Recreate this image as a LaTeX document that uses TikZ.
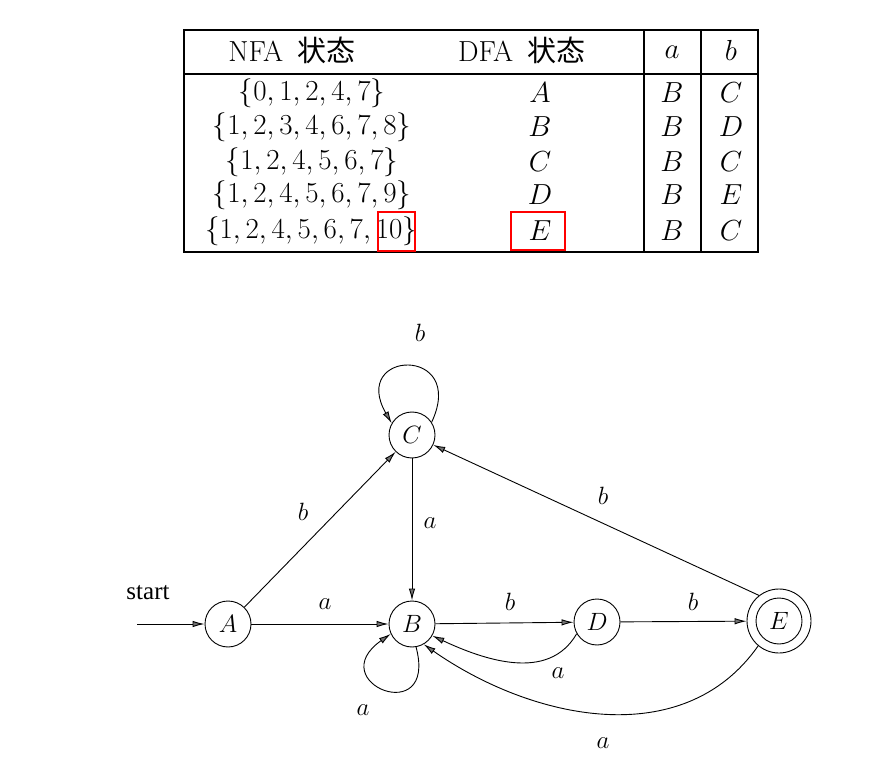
\RequirePackage{fix-cm}
\documentclass[tikz,border=0pt]{standalone}
\usepackage{fontspec}
\newfontfamily\cjkfont{Noto Sans CJK SC}
\newfontfamily\startfont{Liberation Serif}
\usetikzlibrary{arrows.meta}
\tikzset{
  tline/.style={line width=1.5pt},
  redbox/.style={draw=red, line width=2.8pt},
  tcell/.style={inner sep=0pt, font=\fontsize{29}{31}\selectfont},
  st/.style={circle, draw, line width=0.9pt, minimum size=46pt, inner sep=0pt, font=\fontsize{25}{25}\selectfont},
  lbl/.style={inner sep=0pt, font=\fontsize{25}{25}\selectfont},
  arr/.style={line width=0.9pt, -{Latex[length=12pt,width=6.5pt,fill=black!55]}}
}
\begin{document}
\begin{tikzpicture}[x=1pt,y=1pt]
\path[fill=white, use as bounding box] (0,0) rectangle (892,-759);
% ---------- table ----------
\draw[tline] (184,-30) rectangle (758,-252);
\draw[tline] (184,-74) -- (758,-74);
\draw[tline] (644,-30) -- (644,-252);
\draw[tline] (701,-30) -- (701,-252);
\node[tcell] (h1) at (292,-50) {NFA\hspace{0.5em}{\cjkfont 状态}};
\node[tcell] (h2) at (522,-50) {DFA\hspace{0.5em}{\cjkfont 状态}};
\node[tcell] (h3) at (672,-52) {$a$};
\node[tcell] (h4) at (731,-50) {$b$};
% rows
\node[tcell] (n1) at (312,-93) {$\{0,1,2,4,7\}$};
\node[tcell] (n2) at (312,-127) {$\{1,2,3,4,6,7,8\}$};
\node[tcell] (n3) at (312,-162) {$\{1,2,4,5,6,7\}$};
\node[tcell] (n4) at (312,-195) {$\{1,2,4,5,6,7,9\}$};
\node[tcell] (n5) at (311,-231) {$\{1,2,4,5,6,7,10\}$};
\node[tcell] (d1) at (540,-93) {$A$};
\node[tcell] (d2) at (540,-127) {$B$};
\node[tcell] (d3) at (540,-162) {$C$};
\node[tcell] (d4) at (540,-195) {$D$};
\node[tcell] (d5) at (540,-231) {$E$};
\node[tcell] (a1) at (672,-93) {$B$};
\node[tcell] (a2) at (672,-127) {$B$};
\node[tcell] (a3) at (672,-162) {$B$};
\node[tcell] (a4) at (672,-195) {$B$};
\node[tcell] (a5) at (672,-231) {$B$};
\node[tcell] (b1) at (731,-93) {$C$};
\node[tcell] (b2) at (731,-127) {$D$};
\node[tcell] (b3) at (731,-162) {$C$};
\node[tcell] (b4) at (731,-195) {$E$};
\node[tcell] (b5) at (731,-231) {$C$};
\draw[redbox] (378,-212) rectangle (415,-251);
\draw[redbox] (511,-212) rectangle (565,-250);
% ---------- automaton ----------
\node[st] (A) at (228,-624) {$A$};
\node[st] (B) at (412,-624) {$B$};
\node[st] (C) at (412,-435) {$C$};
\node[st] (D) at (597,-622) {$D$};
\node[st, minimum size=64pt] (E) at (779,-621) {};
\node[st] (Ei) at (779,-621) {$E$};
\coordinate (s) at (137,-624);
\node[inner sep=0pt, font=\startfont\fontsize{25}{25}\selectfont] (startlbl) at (148,-593) {start};
\draw[arr] (s) -- (A);
\draw[arr] (A) -- (B);
\draw[arr] (A) -- (C);
\draw[arr] (C) -- (B);
\draw[arr] (B) -- (D);
\draw[arr] (D) -- (E);
\draw[arr] (E.128) -- (C.-25);
\draw[arr] (D.210) to[out=240,in=-25] (B.-30);
\draw[arr] (E.230) to[out=235,in=-35] (B.-60);
\draw[arr] (B.-80) to[out=-75,in=215,distance=85pt] (B.205);
\draw[arr] (C.33) to[out=65,in=120,distance=85pt] (C.150);
% labels
\node[lbl] (l1) at (325,-604) {$a$};
\node[lbl] (l2) at (303,-512) {$b$};
\node[lbl] (l3) at (430,-523) {$a$};
\node[lbl] (l4) at (510,-602) {$b$};
\node[lbl] (l5) at (693,-602) {$b$};
\node[lbl] (l6) at (603,-496) {$b$};
\node[lbl] (l7) at (558,-673) {$a$};
\node[lbl] (l8) at (603,-743) {$a$};
\node[lbl] (l9) at (363,-710) {$a$};
\node[lbl] (l10) at (420,-333) {$b$};
\end{tikzpicture}
\end{document}
